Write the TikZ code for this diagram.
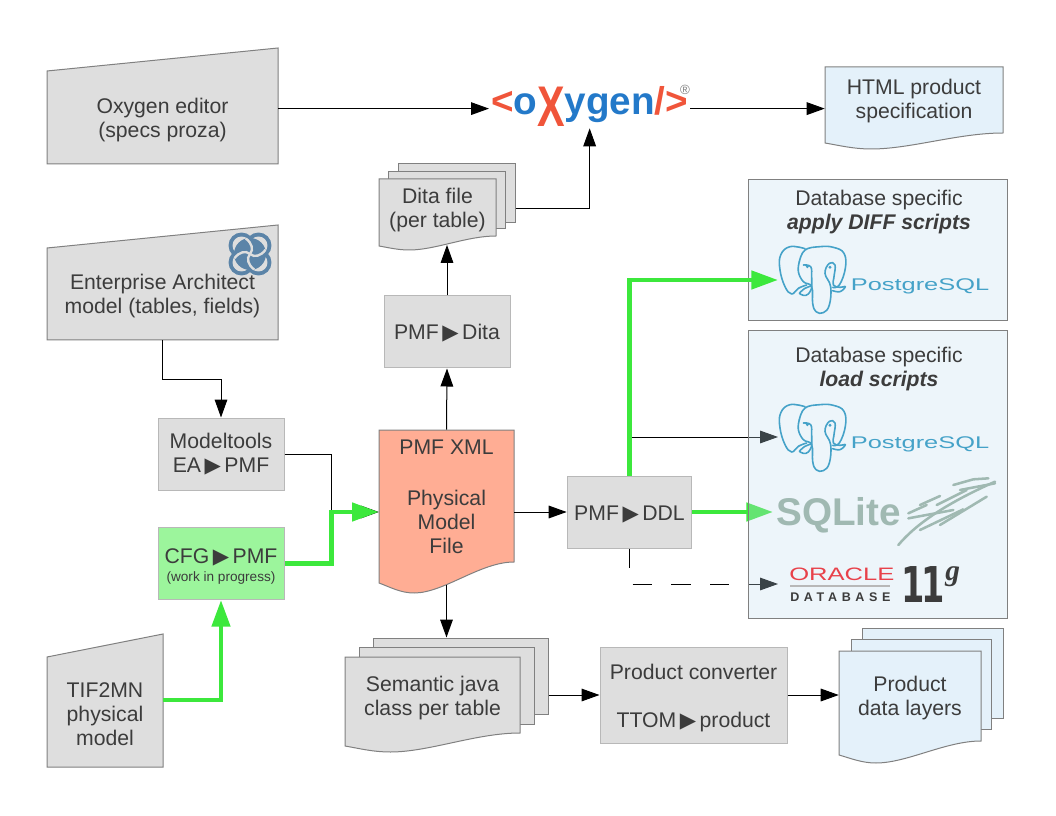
\documentclass[tikz,border=0pt]{standalone}
\usepackage{fontspec}
\usepackage{tikz}
\usetikzlibrary{arrows.meta}
\setmainfont{Liberation Sans}
\newfontfamily\symfont{DejaVu Sans}
\newfontfamily\oracleletters[LetterSpace=37]{Liberation Sans}
\newfontfamily\seriffont{Liberation Serif}

\definecolor{boxgray}{HTML}{DEDEDE}
\definecolor{lineray}{HTML}{808080}
\definecolor{softline}{HTML}{B8B8B8}
\definecolor{textgray}{HTML}{3C3C3C}
\definecolor{docblue}{HTML}{E4F1FA}
\definecolor{dbblue}{RGB}{195,222,238}
\definecolor{salmon}{HTML}{FFAD94}
\definecolor{cfggreen}{HTML}{9CF59C}
\definecolor{flowgreen}{HTML}{3CE83C}
\definecolor{oxred}{HTML}{F0553A}
\definecolor{oxblue}{HTML}{2379C9}
\definecolor{pgblue}{HTML}{45A2C8}
\definecolor{sqlgray}{HTML}{A0B9B2}
\definecolor{orared}{HTML}{E8414A}
\definecolor{eablue}{HTML}{5B84A8}

\newcommand{\tri}{{\symfont\char"25B6}}
% x1 y1 x2 yright yleft ylow
\newcommand{\docpage}[7][boxgray]{
  \filldraw[shapeline, fill=#1] (#2,#3) -- (#4,#3) -- (#4,#5)
    .. controls ({#4-0.25*(#4-#2)},#5) and ({#2+0.48*(#4-#2)},#7) .. ({#2+0.26*(#4-#2)},#7)
    .. controls ({#2+0.16*(#4-#2)},#7) and ({#2+0.08*(#4-#2)},{#6+0.4*(#7-#6)}) .. (#2,#6) -- cycle;
}
% x1 ytopleft x2 ytopright ybottom
\newcommand{\slantbox}[5]{
  \filldraw[shapeline, fill=boxgray] (#1,#2) -- (#3,#4) -- (#3,#5) -- (#1,#5) -- cycle;
}

\tikzset{
  shapeline/.style={draw=lineray, line width=0.75pt},
  plainbox/.style={draw=softline, line width=0.75pt, fill=boxgray, text=textgray, align=center,
    font=\fontsize{15.9}{18}\selectfont, inner sep=0pt},
  backpage/.style={shapeline, rectangle, inner sep=0pt, fill=boxgray},
  labeltext/.style={text=textgray, align=center, font=\fontsize{15.9}{18}\selectfont, inner sep=0pt},
  thinline/.style={line width=0.75pt, -{Triangle[length=13.5pt,width=9.5pt]}},
  greenline/.style={draw=flowgreen, line width=3.4pt, -{Triangle[length=20pt,width=13.5pt]}},
  pglogo/.pic={
    \begin{scope}[x=0.25pt, y=-0.25pt, pgblue, line width=1.2pt, line join=round, line cap=round]
      \draw plot[smooth, tension=0.7] coordinates {(195,236) (150,230) (122,255) (120,300) (135,350) (155,372) (175,355) (200,345)};
      \draw plot[smooth, tension=0.7] coordinates {(178,275) (195,240) (240,230) (280,232) (312,250) (316,295) (298,345) (278,352)};
      \draw plot[smooth, tension=0.7] coordinates {(178,275) (175,305) (190,335) (215,350) (218,400) (228,425) (250,428) (268,405) (272,350) (255,310) (268,280) (285,285) (282,320) (280,345) (300,352) (316,350) (300,365) (278,362)};
      \draw plot[smooth, tension=0.7] coordinates {(178,370) (195,355) (215,350) (205,372) (190,376) (178,370)};
      \draw plot[smooth, tension=0.7] coordinates {(190,285) (212,290) (215,320) (215,350)};
      \fill (202,290) circle (1.2pt);
      \fill (270,292) circle (1.2pt);
      \node[anchor=base west, inner sep=0pt, text=pgblue, font=\fontsize{12.7}{13}\selectfont] (-name) at (330,362)
        {\scalebox{1.5}[1]{PostgreSQL}};
    \end{scope}
  },
}

\begin{document}
\begin{tikzpicture}[x=0.75pt, y=-0.75pt]
  \useasboundingbox (0,0) rectangle (1056,816);

  % Oxygen logo
  \node[inner sep=0pt, outer sep=1.5pt, anchor=base west, font=\bfseries\fontsize{29}{29}\selectfont] (oxygen) at (489,115)
    {\textcolor{oxred}{<}\textcolor{oxblue}{o}\raisebox{-8.5pt}{\textcolor{oxred}{\fontsize{43}{43}\selectfont\scalebox{0.72}[1]{X}}}\textcolor{oxblue}{ygen}\textcolor{oxred}{/>}\kern0pt};
  \node[inner sep=0pt, text=lineray, font=\fontsize{10}{10}\selectfont] (regmark) at (685,90) {\textregistered};

  % Pages
  \slantbox{47}{71}{278}{48}{164}
  \slantbox{47}{248}{278}{225}{340}
  \slantbox{47}{657}{163}{634}{767}

  \docpage[docblue]{825}{67}{1003}{133}{143}{149}

  \node[backpage, minimum width=87.75pt, minimum height=44.25pt] (ditaback) at (456.5,193.5) {};
  \node[backpage, minimum width=87.75pt, minimum height=42.75pt] (ditamid) at (447,200.5) {};
  \docpage{379}{179}{496}{236}{246}{250}

  \node[backpage, minimum width=131.25pt, minimum height=57pt] (semanticback) at (460.5,676) {};
  \node[backpage, minimum width=131.25pt, minimum height=57.75pt] (semanticmid) at (446.5,685.5) {};
  \docpage{345}{657}{520}{733}{746}{752}

  \node[backpage, fill=docblue, minimum width=105.75pt, minimum height=67.5pt] (productback) at (932.5,673) {};
  \node[backpage, fill=docblue, minimum width=105pt, minimum height=67.5pt] (productmid) at (921.5,684) {};
  \docpage[docblue]{839}{651}{981}{741}{755}{763}

  \docpage[salmon]{379}{430}{514}{562}{583}{593}

  % Texts on pages
  \node[labeltext, minimum width=173.25pt, minimum height=87pt] (oxeditor) at (162.5,120) {Oxygen editor\\(specs proza)};
  \node[labeltext, minimum width=173.25pt, minimum height=66pt] (eamodel) at (162.5,296) {Enterprise Architect\\model (tables, fields)};
  \node[labeltext, minimum width=87pt, minimum height=82.5pt] (tifmodel) at (105,714) {TIF2MN\\physical\\model};
  \node[labeltext, minimum width=133.5pt, minimum height=49.5pt] (htmlspec) at (914,101.5) {HTML product\\specification};
  \node[labeltext, minimum width=87.75pt, minimum height=52pt] (ditafile) at (437.5,210) {Dita file\\(per table)};
  \node[labeltext, minimum width=131.25pt, minimum height=50pt] (semantic) at (432.5,698) {Semantic java\\class per table};
  \node[labeltext, minimum width=106.5pt, minimum height=50pt] (product) at (910,698) {Product\\data layers};
  \node[labeltext, minimum width=101.25pt, minimum height=116.25pt] (pmfxml) at (446.5,507.5) {PMF XML\\[2.5pt] \\Physical\\Model\\File\\[-2pt] ~};

  % Boxes
  \node[plainbox, minimum width=94.5pt, minimum height=54pt] (modeltools) at (221,454) {Modeltools\\EA\,\tri\,PMF};
  \node[plainbox, fill=cfggreen, minimum width=94.5pt, minimum height=54pt] (cfgpmf) at (221,563.5)
    {\rule{0pt}{16pt}CFG\,\tri\,PMF\\[-4.5pt]{\fontsize{10.2}{11}\selectfont (work in progress)}};
  \node[plainbox, minimum width=94.5pt, minimum height=54pt] (pmfdita) at (447,332) {\rule{0pt}{13.5pt}PMF\,\tri\,Dita};
  \node[plainbox, minimum width=93.5pt, minimum height=54pt] (pmfddl) at (629.5,512) {\rule{0pt}{15pt}PMF\,\tri\,DDL};
  \node[plainbox, minimum width=140.25pt, minimum height=72pt] (converter) at (693.5,695) {\rule{0pt}{16pt}Product converter\\[17.5pt]TTOM\,\tri\,product};

  % Targets in the database boxes
  \coordinate (pgdiff) at (778,280);
  \coordinate (pgload) at (778,437);
  \coordinate (sqlite) at (773,512);
  \coordinate (oracle) at (778,584);

  % Connectors
  \draw[thinline] ([yshift=-1.5pt]oxeditor.east |- oxygen.west) -- ([yshift=-1.5pt]oxygen.west);
  \draw[thinline] ([yshift=-1.5pt]oxygen.east) -- ([yshift=-1.5pt]oxygen.east -| htmlspec.west);
  \draw[thinline] ([yshift=-10.9pt]ditaback.east) -| (oxygen.south);
  \draw[thinline] (pmfdita.north) -- (pmfdita.north |- ditafile.south);
  \draw[thinline] (pmfxml.north) -- (pmfdita.south);
  \draw[thinline] (eamodel.south) -- ++(0,39) -| (modeltools.north);
  \draw[thinline] (modeltools.east) -- ++(47,0) |- (pmfxml.west |- pmfddl);
  \draw[thinline] (pmfxml.south) -- (pmfxml.south |- semanticback.north);
  \draw[thinline] (pmfxml.east |- pmfddl) -- (pmfddl.west);
  \draw[thinline] (semanticback.east |- converter) -- (converter.west);
  \draw[thinline] (converter.east) -- (converter.east -| product.west);
  \draw[thinline] (pmfddl.north) |- (pgload);
  \draw[thinline, dash pattern=on 14.5pt off 14.5pt] (pmfddl.south) |- (oracle);
  \draw[greenline] (cfgpmf.east) -- ++(47,0) |- (pmfxml.west |- pmfddl);
  \draw[greenline] ([yshift=10.5pt]tifmodel.east) -| (cfgpmf.south);
  \draw[greenline] (pmfddl.east) -- (sqlite);

  % Database boxes
  \node[shapeline, rectangle, fill=dbblue, fill opacity=0.3, minimum width=194.25pt, minimum height=215.25pt] (dbload) at (877.5,474.5) {};
  \node[shapeline, rectangle, fill=dbblue, fill opacity=0.3, minimum width=194.25pt, minimum height=105.75pt] (dbdiff) at (877.5,250.5) {};
  \draw[greenline] (pmfddl.north) |- (pgdiff);

  \node[labeltext] (difftitle) at (879,212) {Database specific\\\textbf{\textit{apply DIFF scripts}}};
  \node[labeltext] (loadtitle) at (879,369) {Database specific\\\textbf{\textit{load scripts}}};

  % Logos
  \pic (pgone) at (740,170) {pglogo};
  \pic (pgtwo) at (740,328) {pglogo};

  \node[anchor=base west, inner sep=0pt, text=sqlgray, font=\bfseries\fontsize{29}{29}\selectfont] (sqlitename) at (776,525) {SQLite};
  \begin{scope}[x=0.25pt, y=-0.25pt, shift={(2220,1170)}, draw=sqlgray, line cap=round, line width=1.9pt]
    \draw (475,465) .. controls (530,400) and (620,340) .. (765,275);
    \draw (505,370) -- (560,345);
    \draw (540,345) -- (600,318);
    \draw (590,345) -- (680,300);
    \draw (640,285) -- (700,268) -- (745,265);
    \draw (505,385) -- (640,360);
    \draw (540,420) -- (670,358);
    \draw (600,405) -- (740,320);
    \draw (660,300) -- (765,280);
  \end{scope}

  \node[anchor=base west, inner sep=0pt, text=orared, font=\fontsize{13.5}{14}\selectfont] (oraclename) at (789,580) {\scalebox{1.42}[1]{ORACLE}};
  \draw[softline, line width=1pt] (790,586) -- (890,586);
  \node[anchor=base west, inner sep=0pt, text=textgray, font=\bfseries\fontsize{9.4}{10}\oracleletters] (oracledb) at (790,601) {DATABASE};
  \node[anchor=base west, inner sep=0pt, text=textgray, font=\bfseries\fontsize{37}{37}\symfont] (oracleversion) at (901,602) {\scalebox{0.68}[1]{1\kern-3pt 1}};
  \node[anchor=base west, inner sep=0pt, text=textgray, font=\bfseries\itshape\fontsize{22}{22}\seriffont] (oracleg) at (945,580) {g};

  % EA icon
  \begin{scope}[shift={(250,254)}]
    \foreach \ang in {45,135,225,315}
      \fill[eablue] (\ang:12) circle (13);
    \foreach \ang in {45,135,225,315}
      \fill[boxgray] (\ang:12) circle (9);
    \fill[eablue] (0,0) circle (16);
    \foreach \ang in {0,90,180,270}
      \draw[boxgray, line width=1.8pt] (0,0) .. controls (\ang+40:6) and (\ang+10:11) .. (\ang-15:16);
  \end{scope}
\end{tikzpicture}
\end{document}
